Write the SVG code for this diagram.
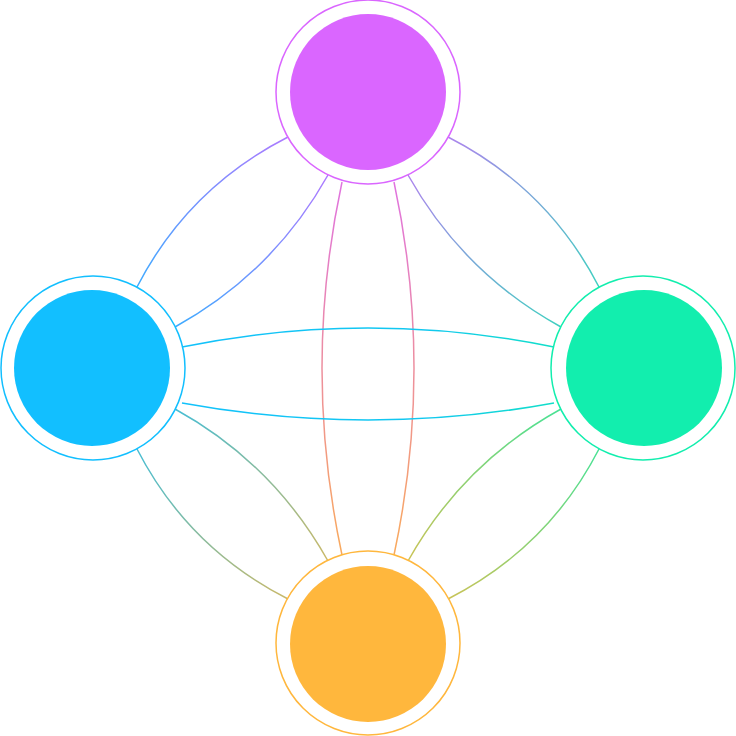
<svg xmlns="http://www.w3.org/2000/svg" width="736" height="736" viewBox="0 0 736 736">
<defs>
<linearGradient id="gTL" gradientUnits="userSpaceOnUse" x1="368" y1="92" x2="92" y2="368"><stop offset="0" stop-color="#DA66FF"/><stop offset="1" stop-color="#12BFFF"/></linearGradient>
<linearGradient id="gTR" gradientUnits="userSpaceOnUse" x1="368" y1="92" x2="644" y2="368"><stop offset="0" stop-color="#DA66FF"/><stop offset="1" stop-color="#12EEAE"/></linearGradient>
<linearGradient id="gLR" gradientUnits="userSpaceOnUse" x1="92" y1="368" x2="644" y2="368"><stop offset="0" stop-color="#12BFFF"/><stop offset="0.6" stop-color="#12C8F0"/><stop offset="1" stop-color="#12EEAE"/></linearGradient>
<linearGradient id="gTB" gradientUnits="userSpaceOnUse" x1="368" y1="92" x2="368" y2="644"><stop offset="0" stop-color="#DA66FF"/><stop offset="1" stop-color="#FFB73D"/></linearGradient>
<linearGradient id="gLB" gradientUnits="userSpaceOnUse" x1="92" y1="368" x2="368" y2="644"><stop offset="0" stop-color="#12BFFF"/><stop offset="1" stop-color="#FFB73D"/></linearGradient>
<linearGradient id="gRB" gradientUnits="userSpaceOnUse" x1="644" y1="368" x2="368" y2="644"><stop offset="0" stop-color="#12EEAE"/><stop offset="1" stop-color="#FFB73D"/></linearGradient>
</defs>
<style>.c{fill:none;stroke-width:1.5}.ring{fill:#fff;stroke-width:1.5}</style>
<g id="connectors">
<path class="c" stroke="url(#gTL)" d="M137,287 Q188,188 288,137"/>
<path class="c" stroke="url(#gTL)" d="M175,327 Q273,273 328,175"/>
<path class="c" stroke="url(#gTR)" d="M599,287 Q548,188 448,137"/>
<path class="c" stroke="url(#gTR)" d="M561,327 Q463,273 408,175"/>
<path class="c" stroke="url(#gLB)" d="M137,449 Q188,548 288,599"/>
<path class="c" stroke="url(#gLB)" d="M175,409 Q273,463 328,561"/>
<path class="c" stroke="url(#gRB)" d="M599,449 Q548,548 448,599"/>
<path class="c" stroke="url(#gRB)" d="M561,409 Q463,463 408,561"/>
<path class="c" stroke="url(#gTB)" d="M342,182 Q302,368 342,555"/>
<path class="c" stroke="url(#gTB)" d="M394,182 Q434,368 394,555"/>
<path class="c" stroke="url(#gLR)" d="M182,347 Q368,309 554,347"/>
<path class="c" stroke="url(#gLR)" d="M182,403 Q368,437 554,403"/>
</g>
<g id="top"><circle class="ring" cx="368" cy="92" r="92" stroke="#DA66FF"/><circle cx="368" cy="92" r="78" fill="#DA66FF"/></g>
<g id="left"><circle class="ring" cx="93" cy="368" r="92" stroke="#12BFFF"/><circle cx="92" cy="368" r="78" fill="#12BFFF"/></g>
<g id="right"><circle class="ring" cx="643" cy="368" r="92" stroke="#12EEAE"/><circle cx="644" cy="368" r="78" fill="#12EEAE"/></g>
<g id="bottom"><circle class="ring" cx="368" cy="643" r="92" stroke="#FFB73D"/><circle cx="368" cy="644" r="78" fill="#FFB73D"/></g>
</svg>
